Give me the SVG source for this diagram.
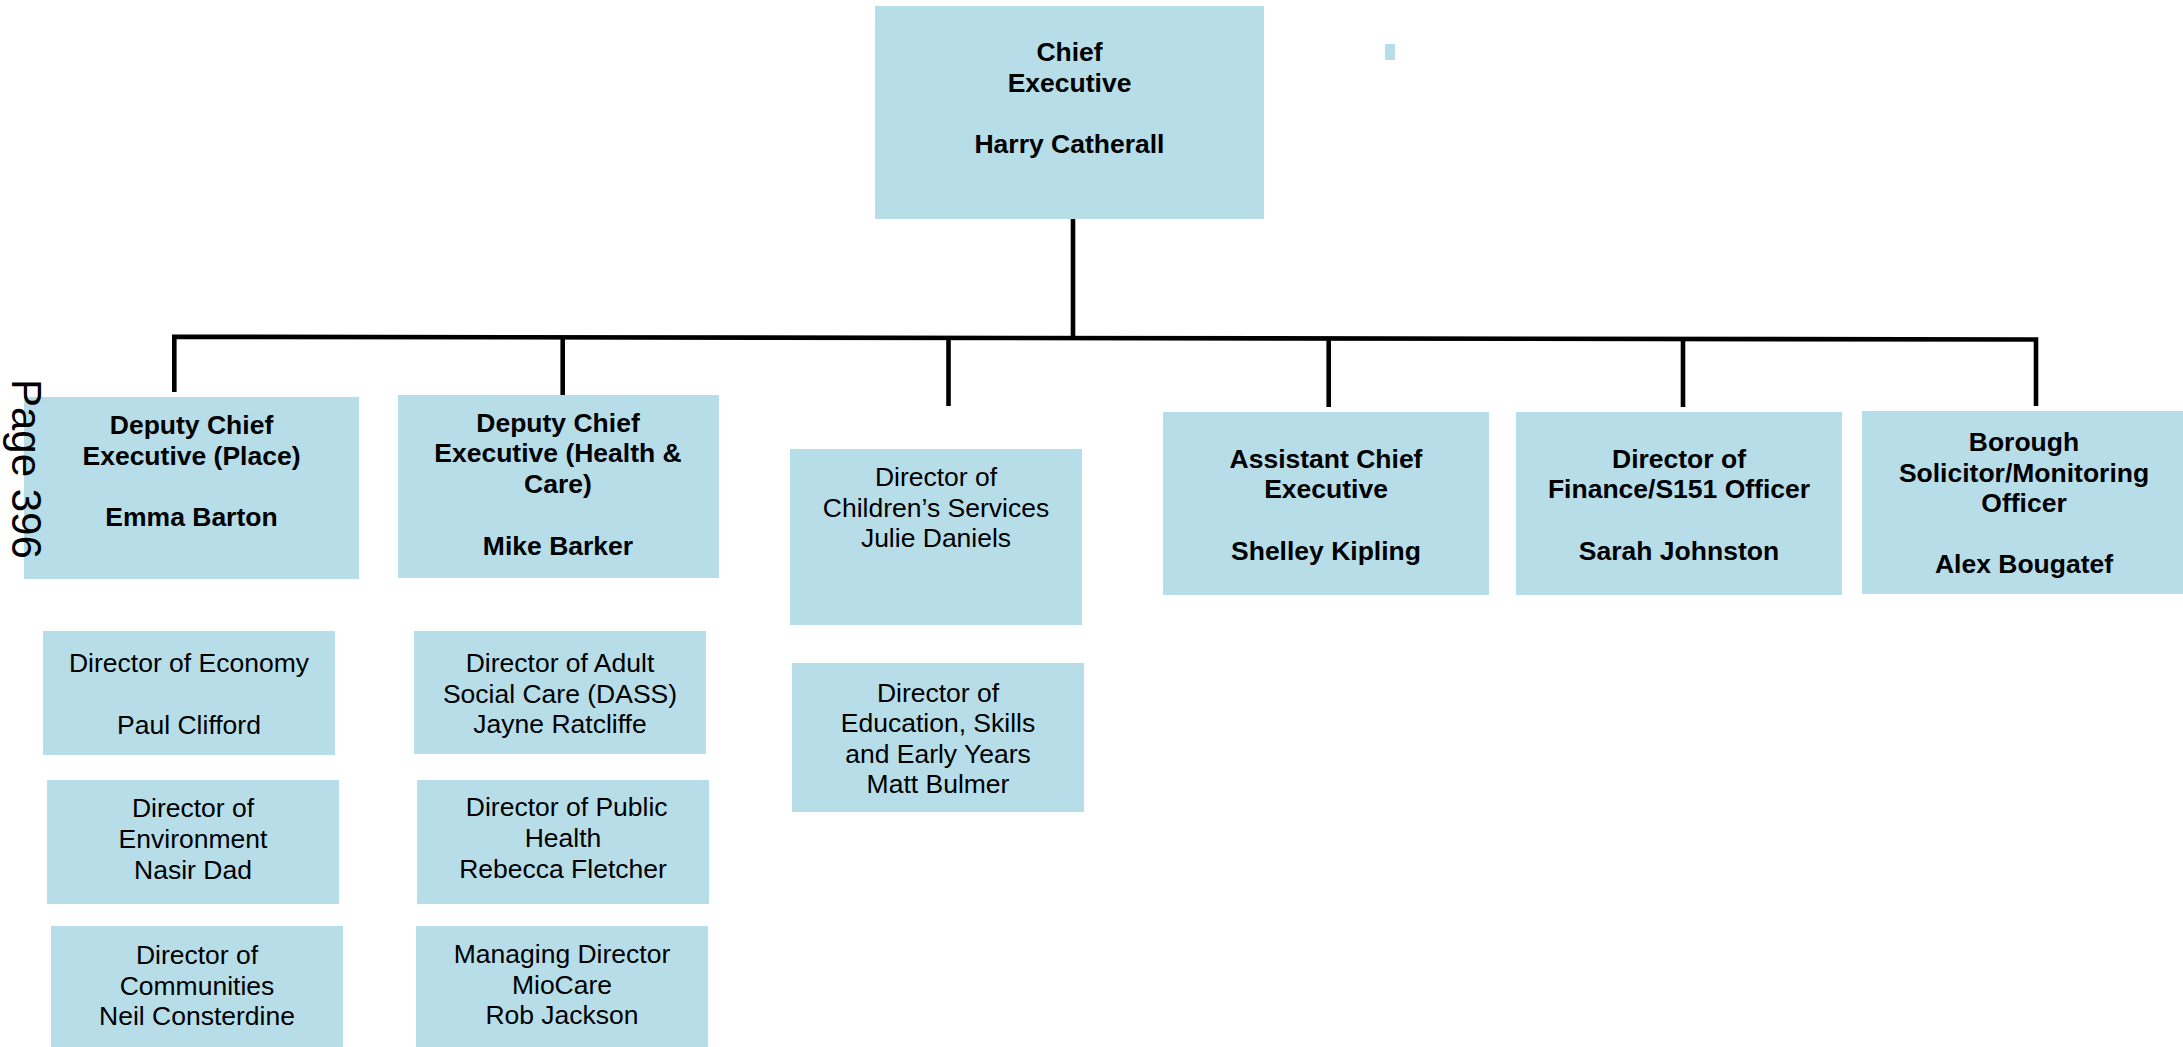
<svg xmlns="http://www.w3.org/2000/svg" width="2183" height="1047" viewBox="0 0 2183 1047">
<style>
.box{fill:#B6DDE8;}
.t{font-family:"Liberation Sans",Arial,sans-serif;font-size:26.5px;fill:#000;text-anchor:middle;}
.b{font-weight:bold;}
.con{fill:none;stroke:#000;stroke-width:4.6;stroke-linejoin:miter;stroke-linecap:butt;}
</style>
<rect width="2183" height="1047" fill="#fff"/>
<rect class="box" x="1385" y="44" width="10" height="16"/>
<g id="connectors">
<path class="con" d="M1073,219 V338"/>
<path class="con" d="M174.3,392 V336.8 L2036,339.5 V406"/>
<path class="con" d="M562.7,337.5 V395"/>
<path class="con" d="M948.5,338 V406"/>
<path class="con" d="M1328.7,338.6 V407"/>
<path class="con" d="M1683,339 V407"/>
</g>
<g id="chief-executive">
<rect class="box" x="875" y="6" width="389" height="213"/>
<text class="t b"><tspan x="1069.5" y="61">Chief</tspan><tspan x="1069.5" y="91.5">Executive</tspan><tspan x="1069.5" y="153">Harry Catherall</tspan></text>
</g>
<g id="dce-place">
<rect class="box" x="24" y="397" width="335" height="182"/>
<text class="t b"><tspan x="191.5" y="434">Deputy Chief</tspan><tspan x="191.5" y="464.5">Executive (Place)</tspan><tspan x="191.5" y="525.5">Emma Barton</tspan></text>
</g>
<g id="dce-health">
<rect class="box" x="398" y="395" width="321" height="183"/>
<text class="t b"><tspan x="558" y="432">Deputy Chief</tspan><tspan x="558" y="462">Executive (Health &amp;</tspan><tspan x="558" y="493">Care)</tspan><tspan x="558" y="555">Mike Barker</tspan></text>
</g>
<g id="childrens-services">
<rect class="box" x="790" y="449" width="292" height="176"/>
<text class="t"><tspan x="936" y="485.7">Director of</tspan><tspan x="936" y="516.5">Children’s Services</tspan><tspan x="936" y="547.3">Julie Daniels</tspan></text>
</g>
<g id="assistant-ce">
<rect class="box" x="1163" y="412" width="326" height="183"/>
<text class="t b"><tspan x="1326" y="467.7">Assistant Chief</tspan><tspan x="1326" y="497.7">Executive</tspan><tspan x="1326" y="560">Shelley Kipling</tspan></text>
</g>
<g id="finance">
<rect class="box" x="1516" y="412" width="326" height="183"/>
<text class="t b"><tspan x="1679" y="467.7">Director of</tspan><tspan x="1679" y="497.7">Finance/S151 Officer</tspan><tspan x="1679" y="560">Sarah Johnston</tspan></text>
</g>
<g id="borough-solicitor">
<rect class="box" x="1862" y="411" width="325" height="183"/>
<text class="t b"><tspan x="2024" y="450.7">Borough</tspan><tspan x="2024" y="481.5">Solicitor/Monitoring</tspan><tspan x="2024" y="511.5">Officer</tspan><tspan x="2024" y="573.3">Alex Bougatef</tspan></text>
</g>
<g id="economy">
<rect class="box" x="43" y="631" width="292" height="124"/>
<text class="t"><tspan x="189" y="672">Director of Economy</tspan><tspan x="189" y="733.5">Paul Clifford</tspan></text>
</g>
<g id="environment">
<rect class="box" x="47" y="780" width="292" height="124"/>
<text class="t"><tspan x="193" y="817">Director of</tspan><tspan x="193" y="848">Environment</tspan><tspan x="193" y="878.7">Nasir Dad</tspan></text>
</g>
<g id="communities">
<rect class="box" x="51" y="926" width="292" height="121"/>
<text class="t"><tspan x="197" y="963.7">Director of</tspan><tspan x="197" y="994.5">Communities</tspan><tspan x="197" y="1025.3">Neil Consterdine</tspan></text>
</g>
<g id="adult-social-care">
<rect class="box" x="414" y="631" width="292" height="123"/>
<text class="t"><tspan x="560" y="671.7">Director of Adult</tspan><tspan x="560" y="702.5">Social Care (DASS)</tspan><tspan x="560" y="732.7">Jayne Ratcliffe</tspan></text>
</g>
<g id="public-health">
<rect class="box" x="417" y="780" width="292" height="124"/>
<text class="t"><tspan x="566.7" y="816">Director of Public</tspan><tspan x="563" y="847">Health</tspan><tspan x="563" y="877.7">Rebecca Fletcher</tspan></text>
</g>
<g id="miocare">
<rect class="box" x="416" y="926" width="292" height="121"/>
<text class="t"><tspan x="562" y="963">Managing Director</tspan><tspan x="562" y="993.7">MioCare</tspan><tspan x="562" y="1024.3">Rob Jackson</tspan></text>
</g>
<g id="education">
<rect class="box" x="792" y="663" width="292" height="149"/>
<text class="t"><tspan x="938" y="701.7">Director of</tspan><tspan x="938" y="732.3">Education, Skills</tspan><tspan x="938" y="762.7">and Early Years</tspan><tspan x="938" y="792.7">Matt Bulmer</tspan></text>
</g>
<text class="t" style="text-anchor:start;font-size:42px" transform="translate(12,379) rotate(90)">Page 396</text>
</svg>
